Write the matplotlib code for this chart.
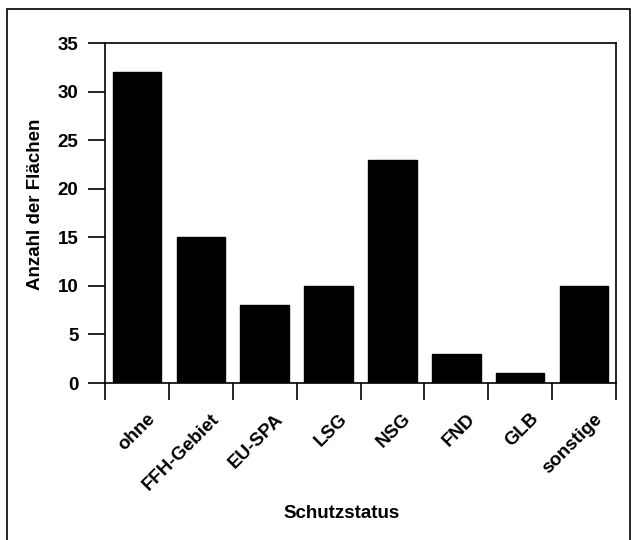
import numpy as np
import matplotlib
matplotlib.use("Agg")
import matplotlib.pyplot as plt
from matplotlib.patches import Rectangle

plt.rcParams['font.family'] = ['Liberation Sans', 'DejaVu Sans']
plt.rcParams['font.weight'] = 'bold'

categories = ['ohne', 'FFH-Gebiet', 'EU-SPA', 'LSG', 'NSG', 'FND', 'GLB', 'sonstige']
counts = [32, 15, 8, 10, 23, 3, 1, 10]

fs = 13.5
W, H = 631, 540

fig = plt.figure(figsize=(W / 100, H / 100), dpi=100)
ax = fig.add_axes([105 / W, 1 - 383 / H, 511 / W, 340 / H])

x = np.arange(len(categories))
ax.bar(x, counts, width=0.76, color='black', edgecolor='black')

ax.set_xlim(-0.5, len(categories) - 0.5)
ax.set_ylim(0, 35)
ax.set_yticks(np.arange(0, 36, 5))

# tick marks at category boundaries, rotated labels a bit right of bar centres
ax.set_xticks(np.arange(-0.5, len(categories)), labels=[])
ax.set_xticks(x + 0.25, minor=True)
ax.set_xticklabels(categories, minor=True, rotation=45, ha='right',
                   va='center', rotation_mode='anchor', fontsize=fs, fontweight='bold')
ax.tick_params(axis='x', which='minor', length=0, pad=24)
ax.tick_params(axis='x', which='major', length=12, width=1.2, direction='out')
ax.tick_params(axis='y', length=12, width=1.2, direction='out', labelsize=fs, pad=7)
for lab in ax.get_yticklabels():
    lab.set_fontweight('bold')

for sp in ax.spines.values():
    sp.set_linewidth(1.2)

ax.set_ylabel('Anzahl der Flächen', fontsize=fs, fontweight='bold')
ax.yaxis.set_label_coords(-0.119, 0.526)
ax.set_xlabel('Schutzstatus', fontsize=fs, fontweight='bold')
ax.xaxis.set_label_coords(0.464, -0.359)

fig.patches.append(Rectangle((7 / W, -0.05), 623 / W, 1.05 - 9 / H,
                             transform=fig.transFigure, fill=False,
                             edgecolor='black', linewidth=1.2))

fig.savefig('out.png', dpi=100)
